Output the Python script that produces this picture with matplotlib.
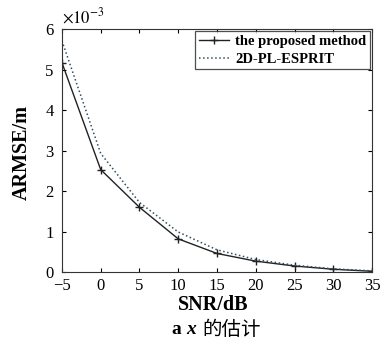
import matplotlib.pyplot as plt

# 数据 (SNR/dB 与 ARMSE, 单位 1e-3 m)
snr = [-5, 0, 5, 10, 15, 20, 25, 30, 35]
proposed = [5.17, 2.53, 1.60, 0.82, 0.46, 0.27, 0.15, 0.07, 0.02]
esprit = [5.71, 2.93, 1.72, 0.99, 0.55, 0.31, 0.17, 0.08, 0.03]
labels = ["the proposed method", "2D-PL-ESPRIT"]

plt.rcParams['font.family'] = ['Liberation Serif', 'Noto Sans CJK SC']
plt.rcParams['mathtext.fontset'] = 'stix'

fig = plt.figure(figsize=(3.8, 3.38), dpi=100)
ax = fig.add_axes([0.163, 0.195, 0.816, 0.719])

ax.plot(snr, proposed, color='#222222', lw=1.0, marker='+', ms=6, mew=1.0,
        label=labels[0])
ax.plot(snr, esprit, color='#2f4f5f', lw=1.1, ls=':', label=labels[1])

ax.set_xlim(-5, 35)
ax.set_ylim(0, 6)
ax.set_xticks(snr)
ax.set_yticks(range(0, 7))
ax.tick_params(direction='in', top=True, right=True, length=3,
               labelsize=12, pad=4)
ax.tick_params(axis='y', pad=6)
for s in ax.spines.values():
    s.set_color('#333333')

# 轴标签
fig.text(22 / 380, (338 - 152) / 338, "ARMSE/m", fontsize=14.5,
         fontweight='bold', rotation=90, ha='center', va='center')
fig.text(213 / 380, 33 / 338, "SNR/dB", fontsize=14.5, fontweight='bold',
         ha='center', va='center')
ax.text(0.0, 1.01, r"$\times10^{-3}$", transform=ax.transAxes, fontsize=12,
        ha='left', va='bottom')

leg = ax.legend(loc='upper right', fontsize=10.5, frameon=True, fancybox=False,
                borderpad=0.25, handlelength=2.1, handletextpad=0.4,
                labelspacing=0.3, borderaxespad=0.15)
leg.get_frame().set_edgecolor('#222222')
leg.get_frame().set_linewidth(0.9)
for t in leg.get_texts():
    t.set_fontweight('bold')

# 图题
cy = 9 / 338
fig.text(181 / 380, cy, "a", fontsize=14, fontweight='bold',
         ha='right', va='center')
fig.text(186 / 380, cy, "x", fontsize=14, fontweight='bold', style='italic',
         ha='left', va='center')
fig.text(202 / 380, cy, "的估计", fontsize=14,
         family=['Noto Sans CJK SC'], ha='left', va='center')

fig.savefig("out.png", dpi=100)
